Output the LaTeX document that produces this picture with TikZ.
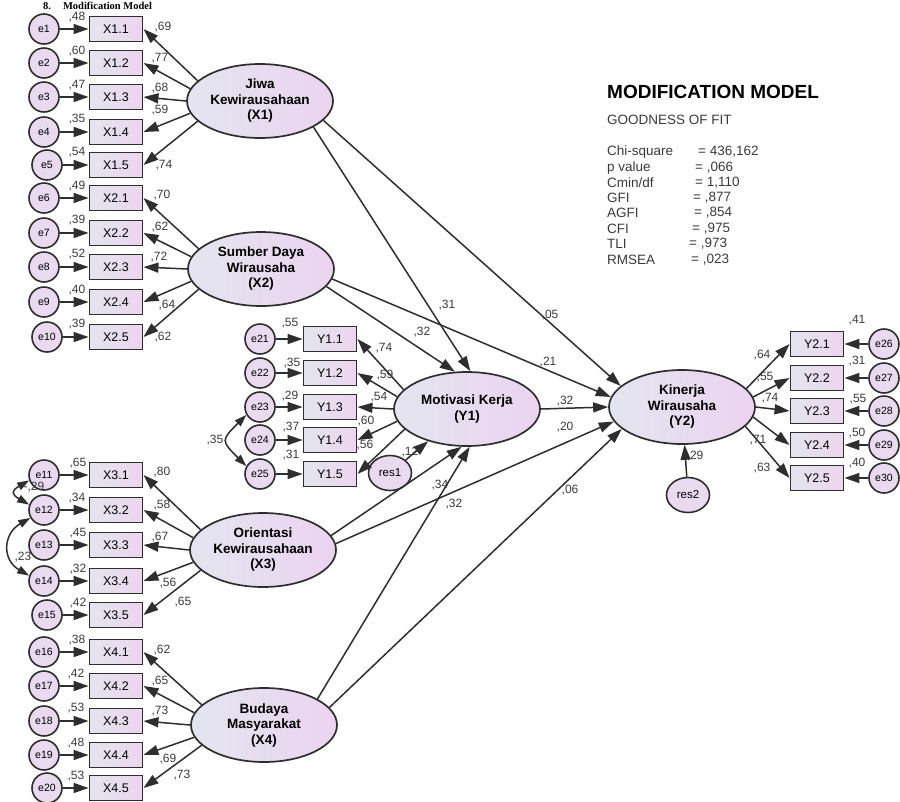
\documentclass[tikz,border=0pt]{standalone}
\usepackage{fontspec}
\setmainfont{Liberation Sans}
\newfontfamily\headfont{Liberation Serif}
\usetikzlibrary{shapes.geometric,arrows.meta}
\definecolor{edgec}{HTML}{2E2E2E}
\definecolor{latL}{HTML}{E3E5EF}
\definecolor{latR}{HTML}{ECD3F0}
\definecolor{boxL}{HTML}{E3E5EE}
\definecolor{boxR}{HTML}{EDD5EF}
\definecolor{errF}{HTML}{EADAF0}
\definecolor{txtc}{HTML}{3A3A3A}
\tikzset{
  lat/.style={ellipse, draw=edgec, line width=1.7pt, left color=latL, right color=latR,
    minimum width=146pt, minimum height=74pt, inner sep=0pt, align=center,
    font=\bfseries\fontsize{13.5}{15.5}\selectfont},
  ind/.style={rectangle, draw=edgec, line width=1.9pt, left color=boxL, right color=boxR,
    minimum width=53pt, minimum height=25pt, inner sep=0pt, font=\fontsize{12.5}{14}\selectfont},
  err/.style={circle, draw=edgec, line width=1.6pt, fill=errF, minimum size=30pt,
    inner sep=0pt, font=\fontsize{10.5}{12}\selectfont},
  res/.style={ellipse, draw=edgec, line width=1.6pt, fill=errF, minimum width=43pt,
    minimum height=35pt, inner sep=0pt, font=\fontsize{11.5}{13}\selectfont},
  lbl/.style={inner sep=0pt, text=txtc, font=\fontsize{12}{13}\selectfont},
  arr/.style={draw=edgec, line width=1.5pt, -{Triangle[length=15pt,width=10pt]}},
  cov/.style={draw=edgec, line width=1.5pt, {Triangle[length=12pt,width=8pt]}-{Triangle[length=12pt,width=8pt]}},
  stat/.style={anchor=west, inner sep=0pt, text=txtc, font=\fontsize{13.5}{15}\selectfont}
}
\begin{document}
\begin{tikzpicture}[x=1pt,y=1pt]
  \useasboundingbox (0,0) rectangle (900,-801);
  \node[anchor=base west, inner sep=0pt, font=\headfont\bfseries\fontsize{10.5}{12}\selectfont] (hd) at (43,-9) {8.\hspace{12pt}Modification Model};

  % latent variables
  \node[lat] (X1) at (260,-101) {Jiwa\\Kewirausahaan\\(X1)};
  \node[lat] (X2) at (261,-269) {Sumber Daya\\Wirausaha\\(X2)};
  \node[lat] (X3) at (263,-550) {Orientasi\\Kewirausahaan\\(X3)};
  \node[lat] (X4) at (264,-725) {Budaya\\Masyarakat\\(X4)};
  \node[lat] (Y1) at (467,-409) {Motivasi Kerja\\(Y1)};
  \node[lat] (Y2) at (682,-407) {Kinerja\\Wirausaha\\(Y2)};
  \node[res] (res1) at (390,-473) {res1};
  \node[res] (res2) at (688,-495) {res2};

  % X1 indicators
  \node[err] (e1) at (44,-29) {e1};   \node[ind] (x11) at (116,-29) {X1.1};
  \node[err] (e2) at (44,-63) {e2};   \node[ind] (x12) at (116,-63) {X1.2};
  \node[err] (e3) at (44,-97) {e3};   \node[ind] (x13) at (116,-97) {X1.3};
  \node[err] (e4) at (44,-132) {e4};  \node[ind] (x14) at (116,-132) {X1.4};
  \node[err] (e5) at (47,-165) {e5};  \node[ind] (x15) at (116,-165) {X1.5};
  % X2 indicators
  \node[err] (e6) at (44,-198) {e6};  \node[ind] (x21) at (116,-198) {X2.1};
  \node[err] (e7) at (44,-233) {e7};  \node[ind] (x22) at (116,-233) {X2.2};
  \node[err] (e8) at (44,-267) {e8};  \node[ind] (x23) at (116,-267) {X2.3};
  \node[err] (e9) at (44,-302) {e9};  \node[ind] (x24) at (116,-302) {X2.4};
  \node[err] (e10) at (47,-337) {e10}; \node[ind] (x25) at (116,-337) {X2.5};
  % X3 indicators
  \node[err] (e11) at (44,-475) {e11}; \node[ind] (x31) at (116,-475) {X3.1};
  \node[err] (e12) at (44,-510) {e12}; \node[ind] (x32) at (116,-510) {X3.2};
  \node[err] (e13) at (44,-545) {e13}; \node[ind] (x33) at (116,-545) {X3.3};
  \node[err] (e14) at (44,-581) {e14}; \node[ind] (x34) at (116,-581) {X3.4};
  \node[err] (e15) at (47,-615) {e15}; \node[ind] (x35) at (116,-615) {X3.5};
  % X4 indicators
  \node[err] (e16) at (44,-652) {e16}; \node[ind] (x41) at (116,-652) {X4.1};
  \node[err] (e17) at (44,-686) {e17}; \node[ind] (x42) at (116,-686) {X4.2};
  \node[err] (e18) at (44,-721) {e18}; \node[ind] (x43) at (116,-721) {X4.3};
  \node[err] (e19) at (44,-755) {e19}; \node[ind] (x44) at (116,-755) {X4.4};
  \node[err] (e20) at (47,-788) {e20}; \node[ind] (x45) at (116,-788) {X4.5};
  % Y1 indicators
  \node[err] (e21) at (260,-339) {e21}; \node[ind] (y11) at (330,-339) {Y1.1};
  \node[err] (e22) at (260,-373) {e22}; \node[ind] (y12) at (330,-373) {Y1.2};
  \node[err] (e23) at (260,-407) {e23}; \node[ind] (y13) at (330,-407) {Y1.3};
  \node[err] (e24) at (260,-440) {e24}; \node[ind] (y14) at (330,-440) {Y1.4};
  \node[err] (e25) at (260,-474) {e25}; \node[ind] (y15) at (330,-474) {Y1.5};
  % Y2 indicators
  \node[ind] (y21) at (817,-344) {Y2.1}; \node[err] (e26) at (884,-344) {e26};
  \node[ind] (y22) at (817,-378) {Y2.2}; \node[err] (e27) at (884,-378) {e27};
  \node[ind] (y23) at (817,-411) {Y2.3}; \node[err] (e28) at (884,-411) {e28};
  \node[ind] (y24) at (817,-445) {Y2.4}; \node[err] (e29) at (884,-445) {e29};
  \node[ind] (y25) at (817,-478) {Y2.5}; \node[err] (e30) at (884,-478) {e30};

  % error arrows
  \draw[arr] (e1) -- (x11);  \draw[arr] (e2) -- (x12);  \draw[arr] (e3) -- (x13);
  \draw[arr] (e4) -- (x14);  \draw[arr] (e5) -- (x15);  \draw[arr] (e6) -- (x21);
  \draw[arr] (e7) -- (x22);  \draw[arr] (e8) -- (x23);  \draw[arr] (e9) -- (x24);
  \draw[arr] (e10) -- (x25); \draw[arr] (e11) -- (x31); \draw[arr] (e12) -- (x32);
  \draw[arr] (e13) -- (x33); \draw[arr] (e14) -- (x34); \draw[arr] (e15) -- (x35);
  \draw[arr] (e16) -- (x41); \draw[arr] (e17) -- (x42); \draw[arr] (e18) -- (x43);
  \draw[arr] (e19) -- (x44); \draw[arr] (e20) -- (x45); \draw[arr] (e21) -- (y11);
  \draw[arr] (e22) -- (y12); \draw[arr] (e23) -- (y13); \draw[arr] (e24) -- (y14);
  \draw[arr] (e25) -- (y15); \draw[arr] (e26) -- (y21); \draw[arr] (e27) -- (y22);
  \draw[arr] (e28) -- (y23); \draw[arr] (e29) -- (y24); \draw[arr] (e30) -- (y25);

  % loadings
  \draw[arr] (X1.162) -- (x11.east); \draw[arr] (X1.170) -- (x12.east); \draw[arr] (X1.180) -- (x13.east);
  \draw[arr] (X1.190) -- (x14.east); \draw[arr] (X1.198) -- (x15.east);
  \draw[arr] (X2.162) -- (x21.east); \draw[arr] (X2.170) -- (x22.east); \draw[arr] (X2.180) -- (x23.east);
  \draw[arr] (X2.190) -- (x24.east); \draw[arr] (X2.198) -- (x25.east);
  \draw[arr] (X3.162) -- (x31.east); \draw[arr] (X3.170) -- (x32.east); \draw[arr] (X3.180) -- (x33.east);
  \draw[arr] (X3.190) -- (x34.east); \draw[arr] (X3.198) -- (x35.east);
  \draw[arr] (X4.162) -- (x41.east); \draw[arr] (X4.170) -- (x42.east); \draw[arr] (X4.180) -- (x43.east);
  \draw[arr] (X4.190) -- (x44.east); \draw[arr] (X4.198) -- (x45.east);
  \draw[arr] (Y1.163) -- (y11.east); \draw[arr] (Y1.170) -- (y12.east); \draw[arr] (Y1.180) -- (y13.east);
  \draw[arr] (Y1.190) -- (y14.east); \draw[arr] (Y1.198) -- (y15.east);
  \draw[arr] (Y2.16) -- (y21.west);  \draw[arr] (Y2.8) -- (y22.west);   \draw[arr] (Y2.0) -- (y23.west);
  \draw[arr] (Y2.352) -- (y24.west); \draw[arr] (Y2.343) -- (y25.west);

  % structural paths
  \draw[arr] (X1.334) -- (Y1.85);
  \draw[arr] (X1.343) -- (Y2.161);
  \draw[arr] (X2.345) -- (Y1.108);
  \draw[arr] (X2.352) -- (Y2.172);
  \draw[arr] (Y1.east) -- (Y2.west);
  \draw[arr] (X3.12) -- (Y1.262);
  \draw[arr] (X3.5) -- (Y2.192);
  \draw[arr] (X4.26) -- (Y1.274);
  \draw[arr] (X4.15) -- (Y2.200);

  % covariances
  \draw[cov] (e12.160) to[out=150,in=210,looseness=2.2] (e11.200);
  \draw[cov] (e14.160) to[out=150,in=210,looseness=1.4] (e12.210);
  \draw[cov] (e25.150) to[out=135,in=225,looseness=1.8] (e23.210);

  % error variance labels
  \node[lbl] (v1) at (77,-17) {,48};   \node[lbl] (v2) at (77,-51) {,60};
  \node[lbl] (v3) at (77,-85) {,47};   \node[lbl] (v4) at (77,-119) {,35};
  \node[lbl] (v5) at (77,-152) {,54};  \node[lbl] (v6) at (77,-186) {,49};
  \node[lbl] (v7) at (77,-220) {,39};  \node[lbl] (v8) at (77,-254) {,52};
  \node[lbl] (v9) at (77,-290) {,40};  \node[lbl] (v10) at (77,-324) {,39};
  \node[lbl] (v11) at (78,-463) {,65}; \node[lbl] (v12) at (77,-498) {,34};
  \node[lbl] (v13) at (78,-533) {,45}; \node[lbl] (v14) at (78,-569) {,32};
  \node[lbl] (v15) at (78,-603) {,42}; \node[lbl] (v16) at (77,-640) {,38};
  \node[lbl] (v17) at (76,-674) {,42}; \node[lbl] (v18) at (76,-708) {,53};
  \node[lbl] (v19) at (76,-743) {,48}; \node[lbl] (v20) at (76,-776) {,53};
  \node[lbl] (v21) at (290,-323) {,55}; \node[lbl] (v22) at (292,-363) {,35};
  \node[lbl] (v23) at (290,-396) {,29}; \node[lbl] (v24) at (291,-427) {,37};
  \node[lbl] (v25) at (291,-455) {,31};
  \node[lbl] (v26) at (857,-320) {,41}; \node[lbl] (v27) at (857,-361) {,31};
  \node[lbl] (v28) at (858,-399) {,55}; \node[lbl] (v29) at (857,-433) {,50};
  \node[lbl] (v30) at (857,-463) {,40};
  \node[lbl] (vr1) at (410,-452) {,12};
  \node[lbl] (vr2) at (695,-456) {,29};

  % loading labels
  \node[lbl] (l11) at (163,-27) {,69};  \node[lbl] (l12) at (160,-58) {,77};
  \node[lbl] (l13) at (160,-88) {,68};  \node[lbl] (l14) at (160,-110) {,59};
  \node[lbl] (l15) at (164,-165) {,74};
  \node[lbl] (l21) at (162,-195) {,70}; \node[lbl] (l22) at (160,-227) {,62};
  \node[lbl] (l23) at (159,-257) {,72}; \node[lbl] (l24) at (167,-305) {,64};
  \node[lbl] (l25) at (163,-337) {,62};
  \node[lbl] (l31) at (162,-472) {,80}; \node[lbl] (l32) at (162,-505) {,58};
  \node[lbl] (l33) at (160,-537) {,67}; \node[lbl] (l34) at (168,-583) {,56};
  \node[lbl] (l35) at (183,-602) {,65};
  \node[lbl] (l41) at (162,-650) {,62}; \node[lbl] (l42) at (160,-681) {,65};
  \node[lbl] (l43) at (160,-711) {,73}; \node[lbl] (l44) at (168,-759) {,69};
  \node[lbl] (l45) at (182,-775) {,73};
  \node[lbl] (m11) at (384,-348) {,74}; \node[lbl] (m12) at (385,-375) {,59};
  \node[lbl] (m13) at (379,-397) {,54}; \node[lbl] (m14) at (366,-421) {,60};
  \node[lbl] (m15) at (365,-445) {,56};
  \node[lbl] (m21) at (762,-355) {,64}; \node[lbl] (m22) at (765,-377) {,55};
  \node[lbl] (m23) at (770,-398) {,74}; \node[lbl] (m24) at (758,-440) {,71};
  \node[lbl] (m25) at (762,-468) {,63};
  \node[lbl] (c1) at (34,-487) {-,29};
  \node[lbl] (c2) at (23,-557) {,23};
  \node[lbl] (c3) at (215,-440) {,35};

  % path labels
  \node[lbl] (b1) at (447,-305) {,31};
  \node[lbl] (b2) at (550,-315) {,05};
  \node[lbl] (b3) at (422,-332) {,32};
  \node[lbl] (b4) at (548,-362) {,21};
  \node[lbl] (b5) at (565,-401) {,32};
  \node[lbl] (b6) at (565,-427) {,20};
  \node[lbl] (b7) at (440,-485) {,34};
  \node[lbl] (b8) at (570,-490) {,06};
  \node[lbl] (b9) at (454,-504) {,32};

  % residual arrows
  \draw[arr] (res1) -- (Y1);
  \draw[arr] (res2) -- (Y2);

  % fit statistics
  \node[anchor=west, inner sep=0pt, font=\bfseries\fontsize{19}{22}\selectfont] (ttl) at (607,-92) {MODIFICATION MODEL};
  \node[stat] (gof) at (607,-120) {GOODNESS OF FIT};
  \node[stat] (s1) at (607,-152) {Chi-square}; \node[stat] (t1) at (698,-152) {= 436,162};
  \node[stat] (s2) at (607,-168) {p value};    \node[stat] (t2) at (695,-168) {= ,066};
  \node[stat] (s3) at (607,-183) {Cmin/df};    \node[stat] (t3) at (695,-183) {= 1,110};
  \node[stat] (s4) at (607,-198) {GFI};        \node[stat] (t4) at (693,-198) {= ,877};
  \node[stat] (s5) at (607,-213) {AGFI};       \node[stat] (t5) at (694,-213) {= ,854};
  \node[stat] (s6) at (607,-229) {CFI};        \node[stat] (t6) at (692,-229) {= ,975};
  \node[stat] (s7) at (607,-244) {TLI};        \node[stat] (t7) at (689,-244) {= ,973};
  \node[stat] (s8) at (607,-260) {RMSEA};      \node[stat] (t8) at (691,-260) {= ,023};
\end{tikzpicture}
\end{document}
